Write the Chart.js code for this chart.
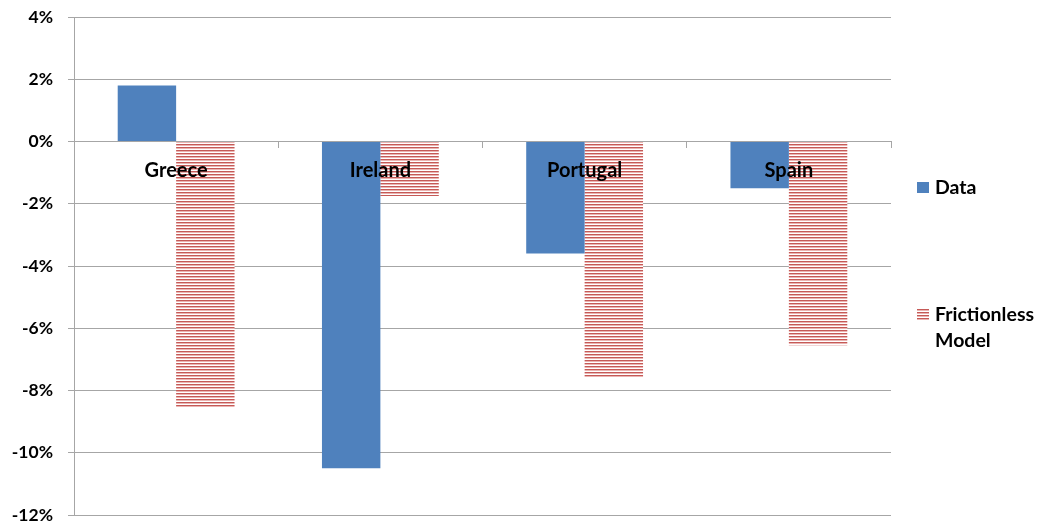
<!DOCTYPE html>
<html>
<head>
<meta charset="utf-8">
<script src="https://cdn.jsdelivr.net/npm/chart.js@4/dist/chart.umd.min.js"></script>
<style>
  body { margin: 0; background: #fff; }
  #wrap { width: 1038px; height: 525px; position: relative; }
</style>
</head>
<body>
<div id="wrap"><canvas id="chart"></canvas></div>
<script>
const categories = ["Greece", "Ireland", "Portugal", "Spain"];
const dataValues = [1.8, -10.5, -3.6, -1.5];
const modelValues = [-8.55, -1.75, -7.6, -6.55];
const yMin = -12;
const yMax = 4;
const yStep = 2;

function stripePattern() {
    const c = document.createElement("canvas");
    c.width = 4;
    c.height = 3;
    const g = c.getContext("2d");
    g.fillStyle = "#ffffff";
    g.fillRect(0, 0, 4, 3);
    g.fillStyle = "#c55a57";
    g.fillRect(0, 0, 4, 1);
    g.fillStyle = "#eab4b2";
    g.fillRect(0, 1, 4, 1);
    return g.createPattern(c, "repeat");
}

const stripes = stripePattern();
const gridColor = "#a6a6a6";
const fontFamily = "Lato, 'Open Sans', sans-serif";

// legend drawn at the right, like the spreadsheet version
const sideLegend = {
    id: "sideLegend",
    afterDraw(chart) {
        const ctx = chart.ctx;
        const spots = [{ y: 182 }, { y: 309 }];
        ctx.save();
        ctx.font = "bold 19.5px " + fontFamily;
        ctx.textBaseline = "alphabetic";
        chart.data.datasets.forEach((ds, i) => {
            const y = spots[i].y;
            ctx.fillStyle = ds.backgroundColor;
            ctx.fillRect(917, y, 12, 11);
            ctx.fillStyle = "#000";
            const words = ds.label.split(" ");
            words.forEach((w, j) => {
                ctx.fillText(w, 935, y + 12 + j * 26);
            });
        });
        ctx.restore();
    }
};

new Chart(document.getElementById("chart"), {
    type: "bar",
    data: {
        labels: categories,
        datasets: [
            {
                label: "Data",
                data: dataValues,
                backgroundColor: "#4f81bd",
                borderWidth: 0
            },
            {
                label: "Frictionless Model",
                data: modelValues,
                backgroundColor: stripes,
                borderWidth: 0
            }
        ]
    },
    options: {
        responsive: true,
        maintainAspectRatio: false,
        animation: false,
        layout: { padding: { top: 17, right: 147, bottom: 10, left: 0 } },
        categoryPercentage: 0.572,
        barPercentage: 1,
        plugins: {
            legend: { display: false },
            tooltip: { enabled: false }
        },
        scales: {
            x: {
                position: { y: 0 },
                grid: {
                    drawOnChartArea: false,
                    drawTicks: true,
                    tickLength: 6,
                    color: gridColor
                },
                border: { color: gridColor, width: 1 },
                ticks: {
                    z: 1,
                    color: "#000",
                    padding: 11,
                    font: { family: fontFamily, size: 20, weight: "bold" }
                }
            },
            y: {
                min: yMin,
                max: yMax,
                afterFit(scale) {
                    scale.width = 74;
                    // keep the label padding from shrinking the plot vertically
                    scale.paddingTop = 8;
                    scale.paddingBottom = 8;
                },
                grid: {
                    color: gridColor,
                    tickLength: 6
                },
                border: { color: gridColor, width: 1 },
                ticks: {
                    stepSize: yStep,
                    padding: 15,
                    color: "#000",
                    font: { family: fontFamily, size: 17.5, weight: "bold" },
                    callback: v => v + "%"
                }
            }
        }
    },
    plugins: [sideLegend]
});
</script>
</body>
</html>
